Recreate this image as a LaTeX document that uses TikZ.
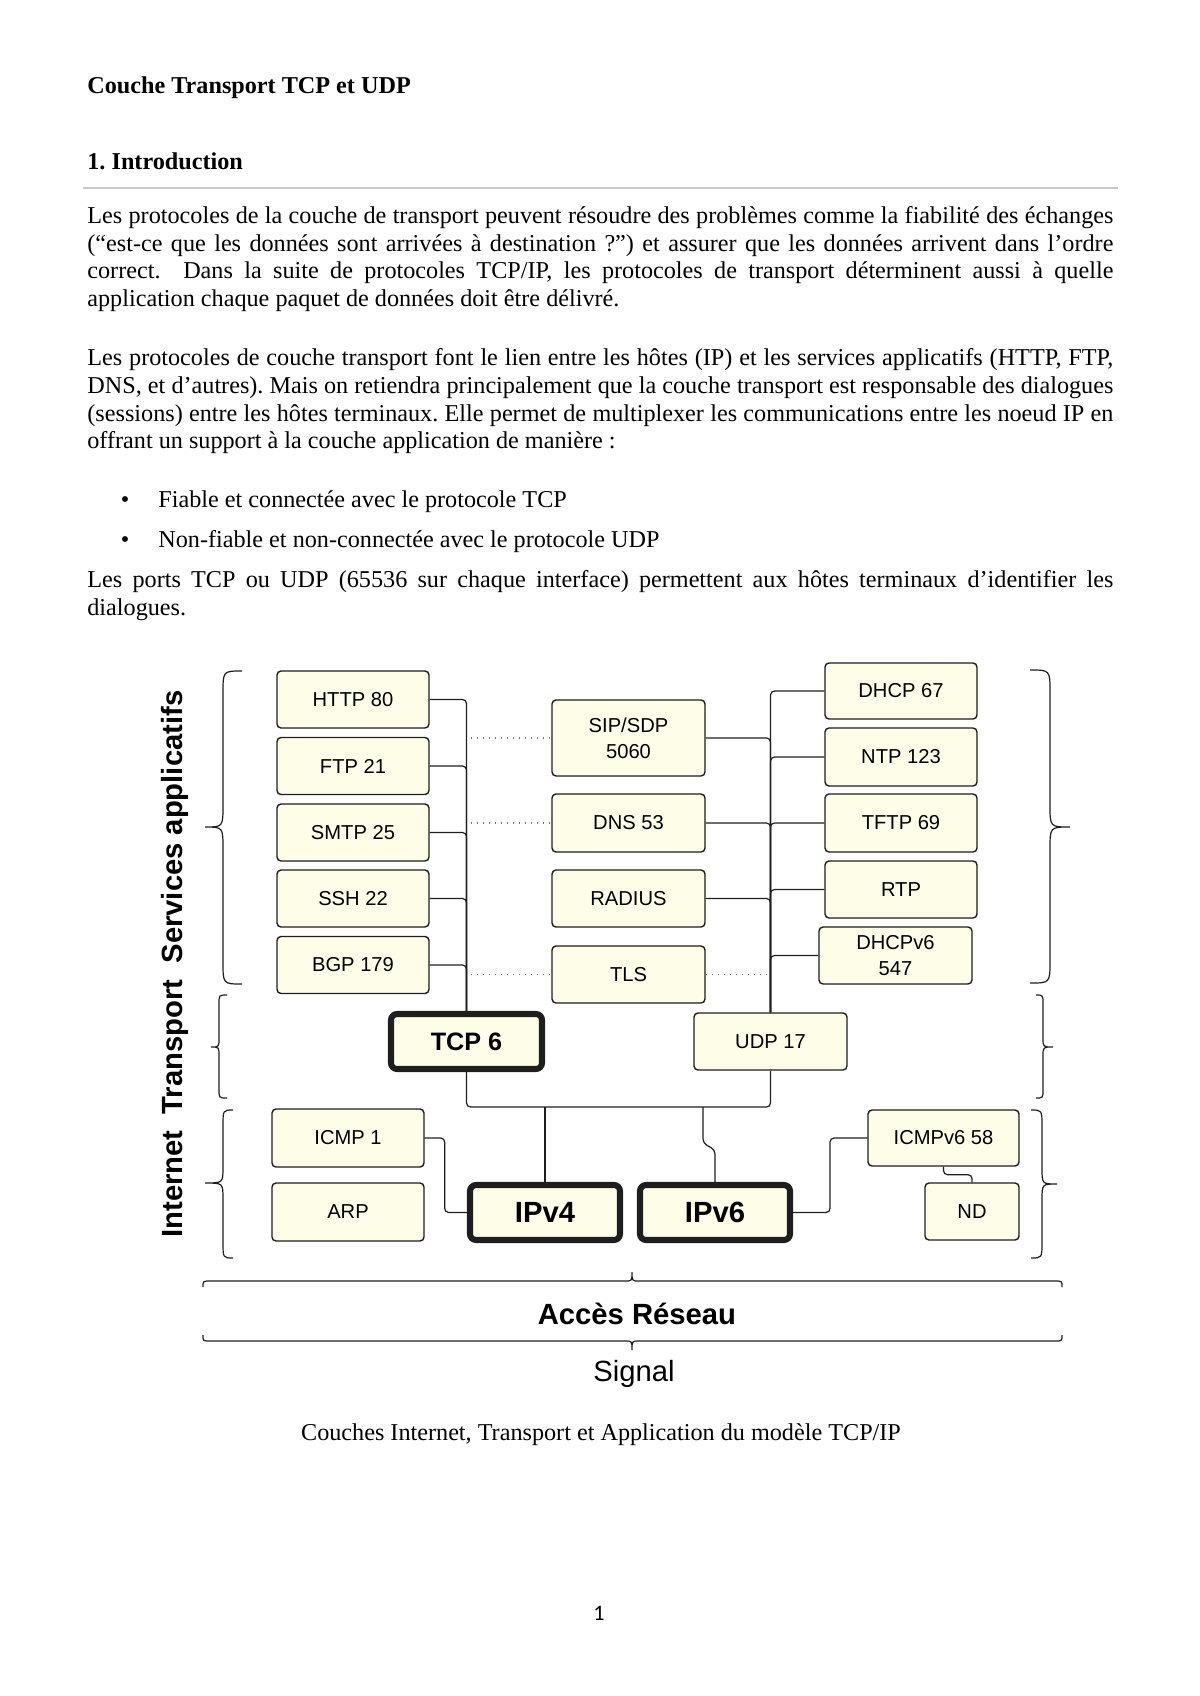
\documentclass[tikz,border=0pt]{standalone}
\usepackage{fontspec}
\setmainfont{Liberation Serif}
\setsansfont{Liberation Sans}
\newfontfamily\carlitofont{Carlito}
\newlength{\pxunit}
\setlength{\pxunit}{0.49606pt}
\definecolor{boxfill}{RGB}{253,253,232}
\definecolor{linec}{RGB}{30,30,30}
\definecolor{rulegray}{RGB}{200,202,202}
\newcommand{\jline}[1]{\makebox[1026\pxunit][s]{#1}}
% vertical brace: xend, xmid, xtip, ytop, ytip, ybot, curl
\newcommand{\vbr}[7]{\draw[bracestyle] (#1,#4) .. controls (#2,#4) .. (#2,#4+#7) -- (#2,#5-#7) .. controls (#2,#5) .. (#3,#5) .. controls (#2,#5) .. (#2,#5+#7) -- (#2,#6-#7) .. controls (#2,#6) .. (#1,#6);}
% horizontal brace: yend, ymid, ytip, xleft, xtip, xright, curl
\newcommand{\hbr}[7]{\draw[bracestyle] (#4,#1) .. controls (#4,#2) .. (#4+#7,#2) -- (#5-#7,#2) .. controls (#5,#2) .. (#5,#3) .. controls (#5,#2) .. (#5+#7,#2) -- (#6-#7,#2) .. controls (#6,#2) .. (#6,#1);}
\begin{document}
\frenchspacing
\begin{tikzpicture}[x=0.49606pt,y=-0.49606pt,
  bodytext/.style={inner sep=0pt, anchor=base west, font=\fontsize{12}{13.8}\selectfont},
  protobox/.style={draw=linec, line width=0.7pt, fill=boxfill, rounded corners=2pt, inner sep=0pt,
     font=\sffamily\fontsize{10}{13}\selectfont, align=center},
  thickbox/.style={protobox, line width=3pt, rounded corners=3pt},
  conn/.style={draw=linec, line width=0.6pt, rounded corners=2pt},
  dotline/.style={draw=black!55, line width=0.55pt, dash pattern=on 0.6pt off 2.4pt},
  bracestyle/.style={draw=linec, line width=0.6pt},
  sidelabel/.style={inner sep=0pt, anchor=base, rotate=90, font=\sffamily\bfseries\fontsize{14.5}{16}\selectfont}
]
\useasboundingbox (0,0) rectangle (1200,1696);

% ---------- text ----------
\node[bodytext, font=\bfseries\fontsize{12}{13.8}\selectfont] (title) at (87,93) {Couche Transport TCP et UDP};
\node[bodytext, font=\bfseries\fontsize{12}{13.8}\selectfont] (intro) at (87,169) {1. Introduction};
\draw[rulegray, line width=1.1pt] (83,188) -- (1118,188);

\node[bodytext] (p1a) at (87,223) {\jline{Les protocoles de la couche de transport peuvent résoudre des problèmes comme la fiabilité des échanges}};
\node[bodytext] (p1b) at (87,251) {\jline{(“est-ce que les données sont arrivées à destination ?”) et assurer que les données arrivent dans l’ordre}};
\node[bodytext] (p1c) at (87,278) {\jline{correct.\ \ Dans la suite de protocoles TCP/IP, les protocoles de transport déterminent aussi à quelle}};
\node[bodytext] (p1d) at (87,306) {application chaque paquet de données doit être délivré.};

\node[bodytext] (p2a) at (87,365) {\jline{Les protocoles de couche transport font le lien entre les hôtes (IP) et les services applicatifs (HTTP, FTP,}};
\node[bodytext] (p2b) at (87,393) {\jline{DNS, et d’autres). Mais on retiendra principalement que la couche transport est responsable des dialogues}};
\node[bodytext] (p2c) at (87,421) {\jline{(sessions) entre les hôtes terminaux. Elle permet de multiplexer les communications entre les noeud IP en}};
\node[bodytext] (p2d) at (87,448) {offrant un support à la couche application de manière :};

\node[bodytext, anchor=base] (b1) at (125,507) {•};
\node[bodytext] (b1t) at (158,507) {Fiable et connectée avec le protocole TCP};
\node[bodytext, anchor=base] (b2) at (125,547) {•};
\node[bodytext] (b2t) at (158,547) {Non-fiable et non-connectée avec le protocole UDP};

\node[bodytext] (p3a) at (87,587) {\jline{Les ports TCP ou UDP (65536 sur chaque interface) permettent aux hôtes terminaux d’identifier les}};
\node[bodytext] (p3b) at (87,615) {dialogues.};

% ---------- boxes ----------
\node[protobox, minimum width=152\pxunit, minimum height=57\pxunit] (http) at (353,699.5) {HTTP 80};
\node[protobox, minimum width=152\pxunit, minimum height=57\pxunit] (ftp) at (353,766) {FTP 21};
\node[protobox, minimum width=152\pxunit, minimum height=57\pxunit] (smtp) at (353,832.5) {SMTP 25};
\node[protobox, minimum width=152\pxunit, minimum height=57\pxunit] (ssh) at (353,898.5) {SSH 22};
\node[protobox, minimum width=152\pxunit, minimum height=57\pxunit] (bgp) at (353,965) {BGP 179};

\node[protobox, minimum width=153\pxunit, minimum height=76\pxunit] (sip) at (628.5,738) {SIP/SDP\\5060};
\node[protobox, minimum width=153\pxunit, minimum height=58\pxunit] (dns) at (628.5,823) {DNS 53};
\node[protobox, minimum width=153\pxunit, minimum height=57\pxunit] (radius) at (628.5,898.5) {RADIUS};
\node[protobox, minimum width=153\pxunit, minimum height=57\pxunit] (tls) at (628.5,974.5) {TLS};

\node[protobox, minimum width=152\pxunit, minimum height=56\pxunit] (dhcp) at (901,691) {DHCP 67};
\node[protobox, minimum width=152\pxunit, minimum height=58\pxunit] (ntp) at (901,757) {NTP 123};
\node[protobox, minimum width=152\pxunit, minimum height=58\pxunit] (tftp) at (901,823) {TFTP 69};
\node[protobox, minimum width=152\pxunit, minimum height=57\pxunit] (rtp) at (901,889.5) {RTP};
\node[protobox, minimum width=153\pxunit, minimum height=57\pxunit] (dhcpv6) at (895.5,955.5) {DHCPv6\\547};

\node[thickbox, minimum width=151\pxunit, minimum height=55\pxunit, font=\sffamily\bfseries\fontsize{12.5}{14}\selectfont] (tcp) at (466.5,1041.5) {TCP 6};
\node[protobox, minimum width=153\pxunit, minimum height=57\pxunit] (udp) at (770.5,1041.5) {UDP 17};

\node[protobox, minimum width=152\pxunit, minimum height=58\pxunit] (icmp) at (348,1138) {ICMP 1};
\node[protobox, minimum width=152\pxunit, minimum height=58\pxunit] (arp) at (348,1212) {ARP};
\node[thickbox, minimum width=150\pxunit, minimum height=55\pxunit, font=\sffamily\bfseries\fontsize{14.5}{16}\selectfont] (ipv4) at (545,1212.5) {IPv4};
\node[thickbox, minimum width=150\pxunit, minimum height=55\pxunit, font=\sffamily\bfseries\fontsize{14.5}{16}\selectfont] (ipv6) at (715,1212.5) {IPv6};
\node[protobox, minimum width=151\pxunit, minimum height=56\pxunit] (icmpv6) at (943.5,1138) {ICMPv6 58};
\node[protobox, minimum width=94\pxunit, minimum height=57\pxunit] (nd) at (972,1211.5) {ND};

% ---------- connectors ----------
\foreach \b in {http,ftp,smtp,ssh,bgp} {\draw[conn] (\b.east) -| (tcp.north);}
\foreach \b in {dhcp,ntp,tftp,rtp,dhcpv6} {\draw[conn] (\b.west) -| (udp.north);}
\foreach \b in {sip,dns,radius} {\draw[conn] (\b.east) -| (udp.north);}
\draw[dotline] ([xshift=2pt]sip.west -| tcp.north) -- (sip.west);
\draw[dotline] ([xshift=2pt]dns.west -| tcp.north) -- (dns.west);
\draw[dotline] ([xshift=2pt]tls.west -| tcp.north) -- (tls.west);
\draw[dotline] (tls.east) -- (tls.east -| udp.north);

\coordinate (busy) at (0,1107);
\coordinate (j6) at (703,1107);
\draw[conn] (tcp.south) |- (busy -| udp.south) -- (udp.south);
\draw[conn] (ipv4.north) -- (ipv4.north |- busy);
\draw[conn] (ipv6.north) -- ++(0,-32) -- (703,1143) -- (j6);
\draw[conn] (icmp.east) -- ++(20,0) |- (ipv4.west);
\draw[conn] (ipv6.east) -- ++(37,0) |- (icmpv6.west);
\draw[conn] (icmpv6.south) -- ++(0,8) -| (nd.north);

% ---------- braces ----------
\vbr{242}{223}{205}{671}{827}{984}{22}
\vbr{227}{219}{211}{995}{1047}{1098}{9}
\vbr{233}{223}{205}{1110}{1183}{1258}{16}
\vbr{1030}{1050}{1070}{670}{827}{983}{22}
\vbr{1036}{1043}{1053}{995}{1047}{1098}{9}
\vbr{1031}{1042}{1057}{1110}{1184}{1258}{16}
\hbr{1287}{1281}{1272}{203}{632}{1062}{7}
\hbr{1335}{1341}{1350}{203}{632}{1062}{7}

% ---------- labels ----------
\node[sidelabel] (lsvc) at (182,827) {Services applicatifs};
\node[sidelabel] (ltrp) at (182,1047) {Transport};
\node[sidelabel] (linet) at (182,1184) {Internet};
\node[inner sep=0pt, anchor=base, font=\sffamily\bfseries\fontsize{14.5}{16}\selectfont] (acces) at (637,1324) {Accès Réseau};
\node[inner sep=0pt, anchor=base, font=\sffamily\fontsize{14.5}{16}\selectfont] (signal) at (634,1381) {Signal};

\node[inner sep=0pt, anchor=base, font=\fontsize{12}{13.8}\selectfont] (caption) at (601,1440) {Couches Internet, Transport et Application du modèle TCP/IP};
\node[inner sep=0pt, anchor=base, font=\carlitofont\fontsize{11}{13}\selectfont] (pagenum) at (599,1620) {1};
\end{tikzpicture}
\end{document}
